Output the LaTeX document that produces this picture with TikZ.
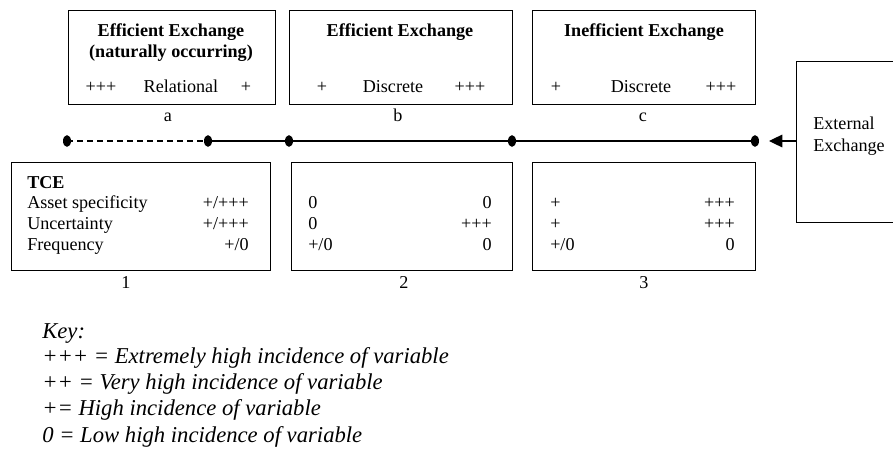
\documentclass[tikz,border=0pt]{standalone}
\usepackage{fontspec}
\setmainfont{Liberation Serif}
\usetikzlibrary{arrows.meta}

\tikzset{
  stagebox/.style={draw, line width=1.1pt, inner sep=0pt, anchor=north west},
  lbl/.style={inner sep=0pt, anchor=base, font=\fontsize{13.6}{16}\selectfont},
  ttl/.style={lbl, font=\fontsize{13.6}{16}\selectfont\bfseries},
  keyline/.style={inner sep=0pt, anchor=base west, font=\fontsize{17}{20}\selectfont\itshape},
}

\begin{document}
\begin{tikzpicture}[x=0.75pt, y=-0.75pt]
  \useasboundingbox (0,0) rectangle (893,450);
  % upper boxes
  \node[stagebox, minimum width=155.25pt, minimum height=70.5pt] (boxa) at (68,10) {};
  \node[stagebox, minimum width=167.25pt, minimum height=70.5pt] (boxb) at (289,10) {};
  \node[stagebox, minimum width=167.25pt, minimum height=70.5pt] (boxc) at (532,10) {};
  \node[ttl] (ta1) at (171,36) {Efficient Exchange};
  \node[ttl] (ta2) at (171,57) {(naturally occurring)};
  \node[lbl] (pa1) at (101,92) {+++};
  \node[lbl] (ra)  at (181,92) {Relational};
  \node[lbl] (pa2) at (246,92) {+};
  \node[ttl] (tb)  at (400,36) {Efficient Exchange};
  \node[lbl] (pb1) at (322,92) {+};
  \node[lbl] (db)  at (393,92) {Discrete};
  \node[lbl] (pb2) at (470,92) {+++};
  \node[ttl] (tc)  at (644,36) {Inefficient Exchange};
  \node[lbl] (pc1) at (556,92) {+};
  \node[lbl] (dc)  at (641,92) {Discrete};
  \node[lbl] (pc2) at (721,92) {+++};
  \node[lbl] (la) at (168,121) {a};
  \node[lbl] (lb) at (398,121) {b};
  \node[lbl] (lc) at (643,121) {c};

  % the continuum
  \coordinate (d1) at (67,141);
  \coordinate (d2) at (208,141);
  \coordinate (d3) at (289,141);
  \coordinate (d4) at (512,141);
  \coordinate (d5) at (755,141);
  \coordinate (tip) at (769,141);
  \draw[line width=0.9pt, dashed, dash pattern=on 4.5pt off 3pt] (d1) -- (d2);
  \draw[line width=0.9pt] (d2) -- (d5);
  \foreach \d in {d1,d2,d3,d4,d5}
    \fill (\d) ellipse [x radius=3pt, y radius=4.4pt];

  % external exchange
  \node[stagebox, minimum width=90pt, minimum height=120.75pt] (ext) at (796,61) {};
  \node[lbl, anchor=base west] (ext1) at (813,129) {External};
  \node[lbl, anchor=base west] (ext2) at (813,151) {Exchange};
  \draw[line width=0.9pt, -{Triangle[length=10pt, width=9.5pt]}] (ext.west |- tip) -- (tip);

  % lower boxes
  \node[stagebox, minimum width=194.25pt, minimum height=81pt] (box1) at (11,162) {};
  \node[stagebox, minimum width=165.75pt, minimum height=81pt] (box2) at (291,162) {};
  \node[stagebox, minimum width=167.25pt, minimum height=81pt] (box3) at (532,162) {};
  \node[ttl, anchor=base west] (tce) at (27,188) {TCE};
  \node[lbl, anchor=base west] (as) at (27,208) {Asset specificity};
  \node[lbl, anchor=base west] (un) at (27,229) {Uncertainty};
  \node[lbl, anchor=base west] (fr) at (27,250) {Frequency};
  \node[lbl, anchor=base east] (v11) at (249,208) {+/+++};
  \node[lbl, anchor=base east] (v12) at (249,229) {+/+++};
  \node[lbl, anchor=base east] (v13) at (249,250) {+/0};
  \node[lbl, anchor=base west] (u21) at (308,208) {0};
  \node[lbl, anchor=base west] (u22) at (308,229) {0};
  \node[lbl, anchor=base west] (u23) at (308,250) {+/0};
  \node[lbl, anchor=base east] (v21) at (492,208) {0};
  \node[lbl, anchor=base east] (v22) at (492,229) {+++};
  \node[lbl, anchor=base east] (v23) at (492,250) {0};
  \node[lbl, anchor=base west] (u31) at (550,208) {+};
  \node[lbl, anchor=base west] (u32) at (550,229) {+};
  \node[lbl, anchor=base west] (u33) at (550,250) {+/0};
  \node[lbl, anchor=base east] (v31) at (735,208) {+++};
  \node[lbl, anchor=base east] (v32) at (735,229) {+++};
  \node[lbl, anchor=base east] (v33) at (735,250) {0};
  \node[lbl] (l1) at (126,288) {1};
  \node[lbl] (l2) at (404,288) {2};
  \node[lbl] (l3) at (644,288) {3};

  % key
  \node[keyline] (key)  at (42,338) {Key:};
  \node[keyline] (key1) at (42,363) {+++ = Extremely high incidence of variable};
  \node[keyline] (key2) at (42,389) {++ = Very high incidence of variable};
  \node[keyline] (key3) at (42,415) {+= High incidence of variable};
  \node[keyline] (key4) at (42,442) {0 = Low high incidence of variable};
\end{tikzpicture}
\end{document}
